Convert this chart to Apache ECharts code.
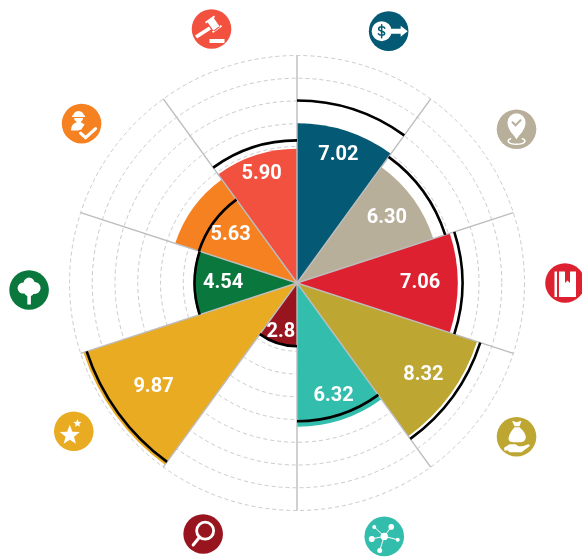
<!DOCTYPE html>
<html>
<head>
<meta charset="utf-8">
<style>html,body{margin:0;padding:0;background:#fff}#c{width:582px;height:559px}</style>
<script src="https://cdn.jsdelivr.net/npm/echarts@6/dist/echarts.min.js"></script>
</head>
<body>
<div id="c"></div>
<script>
const categories = ['Finance','Location','Education','Wealth','Network','Research','Excellence','Environment','Labour','Law'];
const scores = [7.02, 6.30, 7.06, 8.32, 6.32, 2.80, 9.87, 4.54, 5.63, 5.90];
const benchmark = [8.02, 6.85, 7.27, 8.47, 6.08, 2.78, 9.72, 4.50, 4.53, 6.27];
const scoreLabels = ['7.02','6.30','7.06','8.32','6.32','2.8','9.87','4.54','5.63','5.90'];
const colors = ['#045a74','#b8af9b','#de2130','#bda632','#33bdad','#98141f','#e9ab21','#0a773d','#f68121','#f35140'];

// layout constants
const labelDepth = [.84,.775,.766,.825,.825,.816,.79,.716,.64,.855];
const iconAngle = [20,55,90,125,161,200.5,236.4,268.5,306.5,341.4];
const iconDistance = 1.178;

const box = 'M-20 -20M20 20';
function star(cx, cy, R) {
  let d = '';
  for (let i = 0; i < 10; i++) {
    const r = i % 2 ? R * 0.42 : R, a = -Math.PI / 2 + i * Math.PI / 5;
    d += (i ? 'L' : 'M') + (cx + r * Math.cos(a)).toFixed(2) + ' ' + (cy + r * Math.sin(a)).toFixed(2);
  }
  return d + 'Z';
}
function circ(x, y, r) {
  return 'M' + (x - r) + ' ' + y + 'A' + r + ' ' + r + ' 0 1 1 ' + (x + r) + ' ' + y + 'A' + r + ' ' + r + ' 0 1 1 ' + (x - r) + ' ' + y + 'Z';
}
// each icon is a list of [pathData, fill, stroke, lineWidth]
const W = '#fff';
const icons = [
  [[circ(-7,0,10)+'M0 -2.5H13V2.5H0ZM12 -5.5L19 0L12 5.5Z', W],
   ['M-3.8 -3C-4.5 -5 -10 -5 -10 -2.2C-10 0.5 -4 -0.5 -4 2.2C-4 5 -9.5 4.6 -10.3 2.6M-7 -6.5V6.5', 'none', '#045a74', 1.5]],
  [['M0 10C-3 5 -9 1 -9 -7A9 9 0 0 1 9 -7C9 1 3 5 0 10Z', W],
   ['M-4 -7L-1 -4L4 -9', 'none', '#b8af9b', 2],
   ['M-6 9.5C-10 10.5 -9.5 15 0 15C9.5 15 10 10.5 6 9.5', 'none', W, 1.6]],
  [['M-10.5 -11.5H-8V14H-10.5ZM-6 -11.5H11V14H-6Z', W],
   ['M0 -12H5V0L2.5 -2.5L0 0Z', '#de2130']],
  [['M-4.5 -16L0 -14.5L5 -16L3 -10.5H-2ZM-2 -9.5H3C8 -5 10 -1 9 2C8 5 6 5.5 .5 5.5C-5 5.5 -8 5 -8 2C-8 -1 -6 -5 -2 -9.5Z', W],
   ['M-12.5 11L-7 7.5H-1L2 9.5H6L12 7.5L13.5 9L5 15.5H-7L-9 13.5L-12 14Z', W]],
  [['M-10 -9.5L0 0L7 -9.5M0 0L13.5 3.3M0 0L-4.5 14M0 0L-12.5 2.5', 'none', W, 1],
   [circ(0,0,3.7)+circ(-10,-9.5,2)+circ(7,-9.5,2.8)+circ(13.5,3.3,2)+circ(-4.5,14,2.5)+circ(-12.5,2.5,3), W]],
  [[circ(2,-3.3,8.5), 'none', W, 2.8],
   ['M-3.5 3L-10 11', 'none', W, 3]],
  [[star(-4,4,10.5)+star(3.7,-8,4.4), W]],
  [[circ(-6,-2,5.5)+circ(5.5,-2,6)+circ(0,-7,5.5)+circ(0,1.5,5), W],
   ['M-1.8 0H1.8V14.5H-1.8Z', W]],
  [['M-9.5 -6.5V-8H-8.5A5.6 5.6 0 0 1 2.5 -8H3.5V-6.5Z', W],
   ['M-7.5 -5.5H1.5C1.5 -3.5 0 -2.5 -1 -1.5L3 1L-1 7H-10.5C-10.5 3 -9 0 -4.5 -1.5C-6 -2.5 -7.5 -3.5 -7.5 -5.5Z', W],
   ['M-1 9.5L4 14L14 5', 'none', '#f68121', 6.5],
   ['M-1 9.5L4 14L14 5', 'none', W, 3.2]],
  [['M-4.5 -7.5L1.5 -12L8.5 -2L2.5 2.5ZM-6.5 -7L2.5 -13.5L3.5 -12L-5.5 -5.5ZM1.5 4L10.5 -2.5L9.5 -4L.5 2.5Z', W],
   ['M-2.5 -2.5L-.5 .5L-14.5 9.5L-16.5 6.5Z', W],
   ['M-2 10H13V14H-2Z', W]]
];

const chart = echarts.init(document.getElementById('c'), null, {renderer:'canvas'});
chart.setOption({
  animation: false,
  backgroundColor: '#fff',
  polar: { center: [297, 283], radius: [0, 227.5] },
  angleAxis: {
    type: 'category', data: categories, startAngle: 90, clockwise: true, boundaryGap: true, z: 3,
    axisLine: {show:false}, axisTick: {show:false}, axisLabel: {show:false},
    splitLine: {show:true, lineStyle:{color:'#bdbdbd', width:1.4}}
  },
  radiusAxis: {
    min: 0, max: 10, interval: 1, z: 1,
    axisLine: {show:false}, axisTick: {show:false}, axisLabel: {show:false},
    splitLine: {show:true, lineStyle:{color:'#cbcbcb', width:1, type:[4,3]}}
  },
  series: [
    {
      type: 'bar', coordinateSystem: 'polar', barWidth: '100%', z: 2, silent: true,
      data: scores.map((v, i) => ({value: v, itemStyle: {color: colors[i]}}))
    },
    {
      type: 'custom', coordinateSystem: 'polar', z: 4, silent: true,
      data: benchmark.map((v, i) => [v, i]),
      encode: {radius: 0, angle: 1},
      renderItem(params, api) {
        const cs = params.coordSys;
        const p = api.coord([api.value(0), api.value(1)]);
        const mid = Math.atan2(p[1] - cs.cy, p[0] - cs.cx);
        const half = Math.PI / categories.length;
        return {
          type: 'arc',
          shape: {cx: cs.cx, cy: cs.cy, r: Math.hypot(p[0] - cs.cx, p[1] - cs.cy), startAngle: mid - half, endAngle: mid + half, clockwise: true},
          style: {fill: 'none', stroke: '#000', lineWidth: 2.6}
        };
      }
    },
    {
      type: 'custom', coordinateSystem: 'polar', z: 5, silent: true,
      data: scores.map((v, i) => [v, i]),
      encode: {radius: 0, angle: 1},
      renderItem(params, api) {
        const i = api.value(1);
        const p = api.coord([api.value(0) * labelDepth[i], i]);
        return {
          type: 'text', x: p[0], y: p[1],
          style: {text: scoreLabels[i], fill: '#fff', font: '700 20px Roboto', align: 'center', verticalAlign: 'middle'}
        };
      }
    },
    {
      type: 'custom', coordinateSystem: 'polar', z: 6, silent: true, clip: false,
      data: scores.map((v, i) => [v, i]),
      encode: {radius: 0, angle: 1},
      renderItem(params, api) {
        const cs = params.coordSys, i = api.value(1);
        const a = iconAngle[i] * Math.PI / 180, d = cs.r * iconDistance;
        const children = [{type: 'circle', shape: {cx: 0, cy: 0, r: 19.8}, style: {fill: colors[i]}}];
        icons[i].forEach(part => children.push({
          type: 'path',
          shape: {pathData: box + part[0], x: -20, y: -20, width: 40, height: 40, layout: 'cover'},
          style: {fill: part[1], stroke: part[2] || null, lineWidth: part[3] || 0, lineCap: 'round'}
        }));
        return {type: 'group', x: cs.cx + d * Math.sin(a), y: cs.cy - d * Math.cos(a), children};
      }
    }
  ]
});
</script>
</body>
</html>
